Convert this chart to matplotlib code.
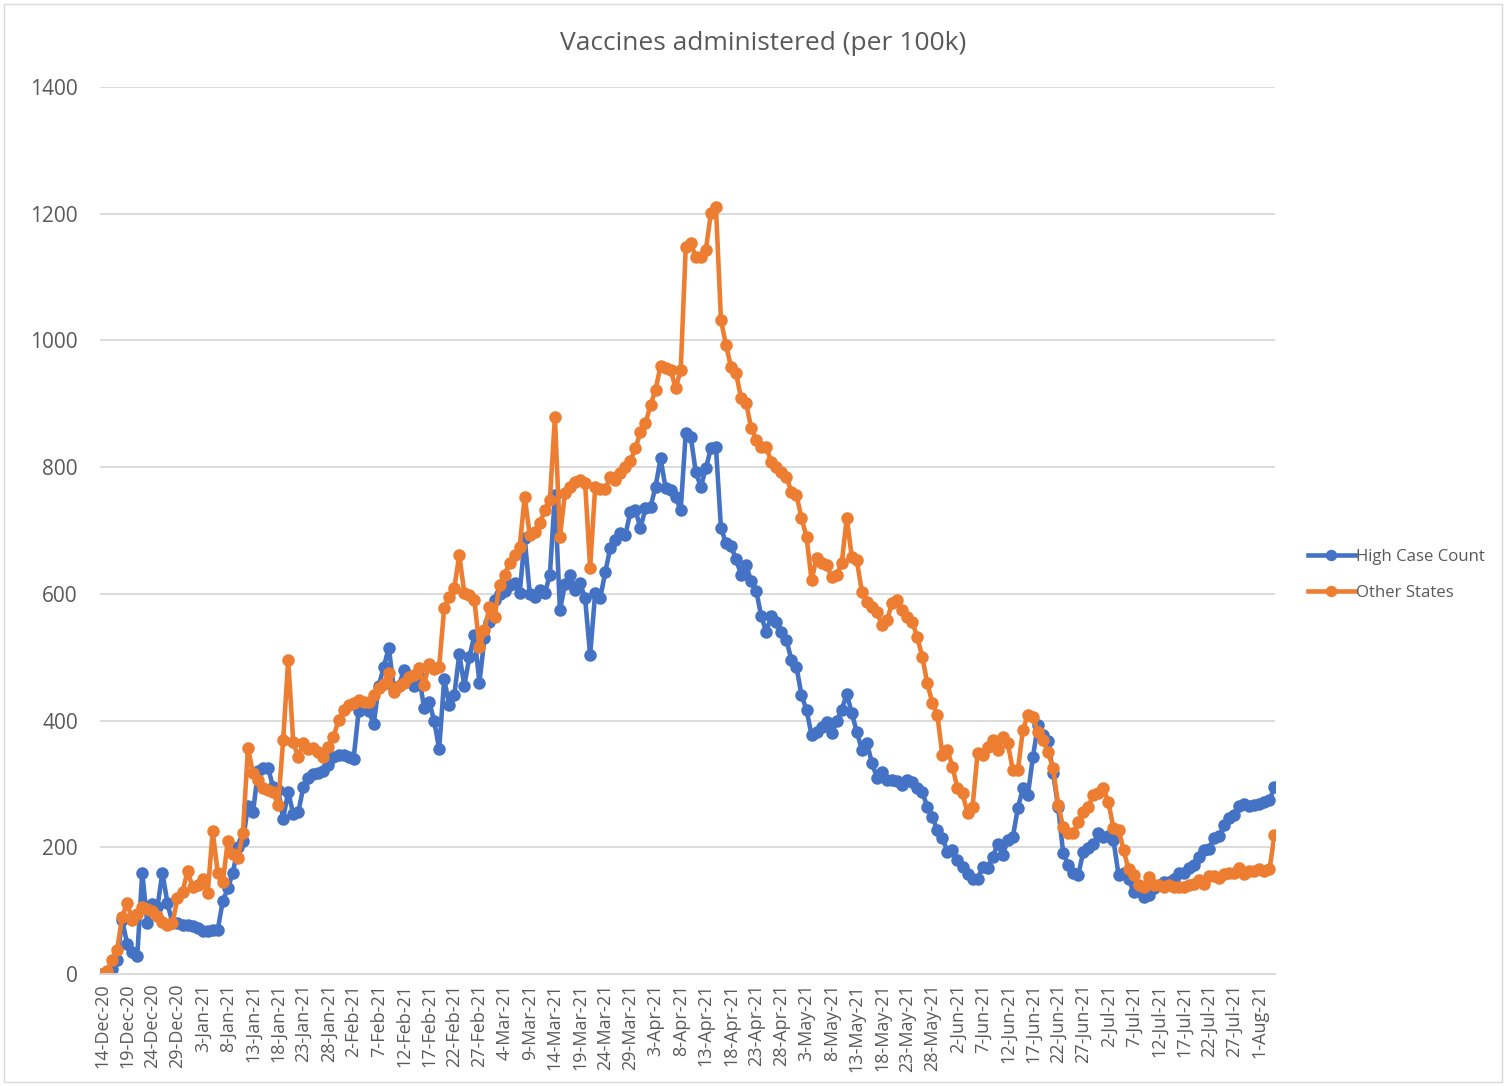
import matplotlib.pyplot as plt
import pandas as pd
from matplotlib.patches import Rectangle

# daily values per 100k, 14-Dec-20 .. 4-Aug-21
start_date = "2020-12-14"

high_case = [
    0, 3, 8, 22, 85, 48, 35, 28, 160, 80,
    110, 105, 160, 112, 80, 80, 78, 78, 76, 72,
    68, 68, 70, 70, 115, 135, 160, 200, 210, 265,
    255, 320, 325, 325, 295, 290, 245, 288, 252, 255,
    295, 310, 315, 318, 320, 330, 342, 345, 345, 342,
    340, 415, 420, 415, 395, 455, 485, 515, 450, 455,
    480, 465, 455, 470, 420, 430, 400, 355, 465, 425,
    440, 505, 455, 500, 535, 460, 530, 555, 590, 600,
    605, 614, 617, 601, 688, 600, 595, 606, 601, 630,
    756, 574, 615, 630, 606, 617, 593, 503, 601, 593,
    634, 672, 685, 696, 693, 729, 732, 704, 735, 737,
    769, 814, 767, 764, 753, 732, 854, 848, 792, 769,
    798, 830, 832, 704, 680, 675, 655, 630, 645, 620,
    605, 565, 540, 565, 555, 540, 527, 496, 485, 440,
    417, 377, 382, 390, 398, 380, 400, 417, 442, 412,
    382, 354, 365, 333, 310, 319, 306, 306, 305, 298,
    306, 303, 294, 287, 264, 248, 227, 215, 193, 195,
    180, 169, 158, 150, 150, 169, 168, 185, 205, 188,
    211, 216, 262, 293, 283, 343, 393, 377, 368, 317,
    264, 191, 172, 160, 156, 193, 199, 205, 222, 216,
    218, 211, 157, 160, 150, 130, 132, 122, 125, 135,
    140, 145, 145, 150, 159, 160, 167, 172, 185, 196,
    198, 215, 218, 235, 246, 251, 265, 268, 265, 267,
    268, 271, 274, 295,
]

other_states = [
    0, 5, 22, 38, 90, 112, 85, 95, 105, 103,
    100, 92, 82, 77, 80, 120, 130, 162, 138, 140,
    150, 128, 225, 160, 145, 210, 190, 183, 222, 357,
    317, 306, 293, 290, 287, 267, 369, 496, 366, 342,
    364, 355, 357, 350, 342, 358, 374, 401, 417, 425,
    428, 432, 429, 430, 440, 451, 458, 475, 445, 455,
    460, 468, 472, 483, 456, 490, 482, 485, 578, 595,
    609, 661, 601, 598, 590, 516, 543, 579, 563, 614,
    630, 649, 661, 674, 753, 693, 698, 712, 732, 748,
    879, 690, 759, 769, 776, 780, 775, 641, 768, 765,
    765, 784, 780, 790, 800, 810, 830, 855, 869, 898,
    922, 960, 956, 953, 925, 953, 1147, 1153, 1132, 1132,
    1143, 1201, 1211, 1032, 993, 958, 948, 909, 901, 862,
    843, 832, 832, 808, 800, 792, 785, 761, 756, 720,
    690, 622, 656, 648, 645, 627, 630, 648, 720, 658,
    653, 603, 587, 579, 571, 551, 559, 585, 590, 574,
    564, 556, 532, 501, 459, 428, 409, 346, 354, 327,
    293, 285, 254, 264, 349, 346, 358, 369, 354, 374,
    364, 322, 322, 385, 409, 406, 382, 369, 350, 325,
    267, 232, 222, 222, 240, 256, 264, 283, 285, 293,
    271, 230, 228, 196, 165, 156, 140, 137, 153, 140,
    140, 138, 140, 137, 138, 137, 140, 142, 148, 142,
    155, 155, 152, 158, 160, 160, 167, 158, 163, 163,
    165, 163, 165, 219,
]

dates = pd.date_range(start_date, periods=len(high_case))
tick_labels = [f"{d.day}-{d.strftime('%b-%y')}" for d in dates]

grey = "#595959"
plt.rcParams["font.family"] = ["Open Sans", "DejaVu Sans"]

fig = plt.figure(figsize=(15.06, 10.86), dpi=100)
ax = fig.add_axes([100 / 1506, 1 - 974 / 1086, 1175 / 1506, 887 / 1086])

idx = list(range(len(dates)))
ax.plot(idx, high_case, color="#4472C4", lw=3.3, marker="o", ms=8, label="High Case Count")
ax.plot(idx, other_states, color="#ED7D31", lw=3.3, marker="o", ms=8, label="Other States")

ax.set_ylim(0, 1400)
ax.set_yticks(range(0, 1401, 200))
ax.set_xlim(-0.4, 233.1)
ax.set_xticks(idx[::5])
ax.set_xticklabels(tick_labels[::5], rotation=90, fontsize=13, color=grey)
ax.tick_params(axis="y", labelsize=15, colors=grey, length=0, pad=16)
ax.tick_params(axis="x", length=0, pad=7)
ax.grid(axis="y", color="#d9d9d9", lw=1.3)
ax.set_axisbelow(True)
for s in ["top", "right", "left"]:
    ax.spines[s].set_visible(False)
ax.spines["bottom"].set_color("#d9d9d9")
ax.spines["bottom"].set_linewidth(1.3)

fig.text(763 / 1506, 1 - 43 / 1086, "Vaccines administered (per 100k)", ha="center", va="center",
         fontsize=19, color=grey)

ax.legend(loc="center left", bbox_to_anchor=(1.028, 0.45), frameon=False, fontsize=12.1,
          labelcolor=grey, handlelength=2.8, handletextpad=0.05, labelspacing=1.2,
          borderpad=0, borderaxespad=0, markerscale=0.9)

fig.patches.append(Rectangle((4 / 1506, 4 / 1086), 1498 / 1506, 1078 / 1086, transform=fig.transFigure,
                             fill=False, edgecolor="#d9d9d9", lw=1))

fig.savefig("out.png", dpi=100)
